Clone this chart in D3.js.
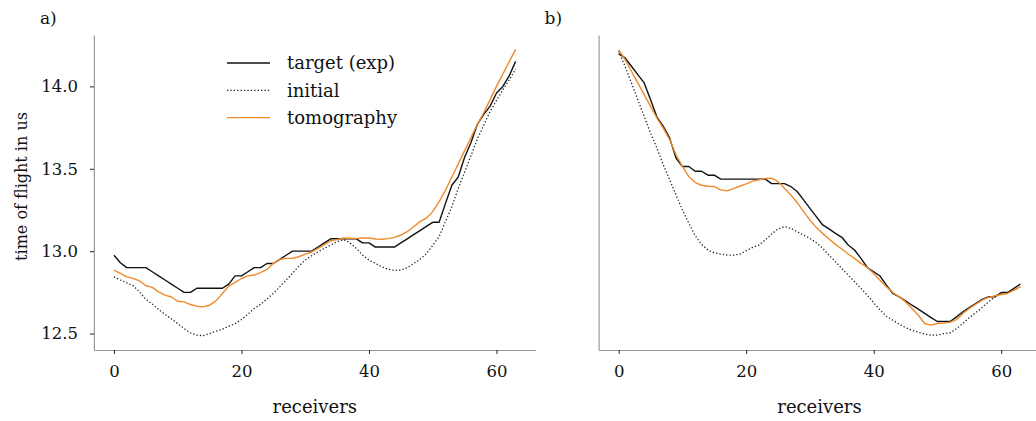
<!DOCTYPE html>
<html>
<head>
    <meta charset="utf-8" />
    <script src="https://d3js.org/d3.v7.min.js"></script>
    <style>
        body { margin: 0; background: #fff; }
        svg text { font-family: "DejaVu Serif", serif; fill: #111; }
        .axis path { stroke: #9a9a9a; stroke-width: 1.2; }
        .axis line { stroke: #222; stroke-width: 1; }
        .axis text { font-size: 16.5px; }
    </style>
</head>
<body>
<svg width="1036" height="421"></svg>
<script>
    // receiver index 0..63
    var receivers = d3.range(64);

    var xTicks = [0, 20, 40, 60];
    var yTicks = [12.5, 13.0, 13.5, 14.0];

    // panel a)
    var targetA = [12.975, 12.93, 12.90, 12.90, 12.90, 12.90, 12.875, 12.85, 12.825, 12.80,
        12.775, 12.75, 12.75, 12.775, 12.775, 12.775, 12.775, 12.775, 12.80, 12.85,
        12.85, 12.875, 12.90, 12.90, 12.925, 12.925, 12.95, 12.975, 13.0, 13.0,
        13.0, 13.0, 13.025, 13.05, 13.075, 13.075, 13.075, 13.075, 13.075, 13.05,
        13.05, 13.025, 13.025, 13.025, 13.025, 13.05, 13.075, 13.10, 13.125, 13.15,
        13.175, 13.175, 13.29, 13.40, 13.45, 13.57, 13.66, 13.77, 13.83, 13.88,
        13.96, 14.00, 14.065, 14.152];
    var initialA = [12.844, 12.825, 12.808, 12.79, 12.753, 12.707, 12.68, 12.646, 12.616, 12.589,
        12.56, 12.53, 12.504, 12.49, 12.487, 12.50, 12.514, 12.526, 12.544, 12.56,
        12.585, 12.617, 12.652, 12.678, 12.71, 12.743, 12.783, 12.825, 12.865, 12.91,
        12.946, 12.972, 12.996, 13.017, 13.037, 13.057, 13.07, 13.051, 13.017, 12.976,
        12.946, 12.926, 12.905, 12.89, 12.883, 12.885, 12.90, 12.925, 12.95, 12.985,
        13.035, 13.088, 13.18, 13.27, 13.38, 13.48, 13.58, 13.68, 13.765, 13.848,
        13.915, 13.98, 14.04, 14.106];
    var tomoA = [12.885, 12.865, 12.844, 12.835, 12.82, 12.79, 12.78, 12.753, 12.733, 12.722,
        12.696, 12.692, 12.676, 12.666, 12.662, 12.672, 12.698, 12.743, 12.788, 12.81,
        12.834, 12.85, 12.855, 12.87, 12.889, 12.926, 12.95, 12.956, 12.956, 12.966,
        12.982, 12.995, 13.017, 13.04, 13.063, 13.07, 13.08, 13.078, 13.076, 13.08,
        13.08, 13.074, 13.072, 13.076, 13.084, 13.098, 13.118, 13.148, 13.179, 13.20,
        13.24, 13.30, 13.37, 13.45, 13.53, 13.61, 13.69, 13.77, 13.84, 13.92,
        14.00, 14.075, 14.15, 14.225];

    // panel b)
    var targetB = [14.199, 14.173, 14.122, 14.071, 14.021, 13.919, 13.814, 13.757, 13.686, 13.564,
        13.514, 13.514, 13.485, 13.485, 13.461, 13.461, 13.437, 13.437, 13.437, 13.437,
        13.437, 13.437, 13.437, 13.437, 13.41, 13.41, 13.41, 13.392, 13.362, 13.311,
        13.26, 13.21, 13.159, 13.135, 13.108, 13.084, 13.037, 13.007, 12.956, 12.901,
        12.875, 12.849, 12.794, 12.743, 12.723, 12.699, 12.672, 12.648, 12.622, 12.597,
        12.573, 12.573, 12.573, 12.601, 12.632, 12.658, 12.682, 12.707, 12.723, 12.723,
        12.749, 12.749, 12.774, 12.80];
    var initialB = [14.213, 14.122, 14.021, 13.919, 13.818, 13.716, 13.625, 13.524, 13.433, 13.341,
        13.25, 13.169, 13.094, 13.041, 13.007, 12.99, 12.982, 12.976, 12.976, 12.982,
        13.003, 13.023, 13.037, 13.068, 13.104, 13.135, 13.149, 13.139, 13.118, 13.098,
        13.078, 13.051, 13.017, 12.976, 12.936, 12.895, 12.855, 12.814, 12.774, 12.733,
        12.687, 12.642, 12.605, 12.581, 12.557, 12.536, 12.52, 12.508, 12.496, 12.49,
        12.49, 12.50, 12.504, 12.53, 12.561, 12.597, 12.626, 12.658, 12.692, 12.723,
        12.739, 12.749, 12.764, 12.78];
    var tomoB = [14.223, 14.163, 14.092, 14.021, 13.95, 13.879, 13.808, 13.747, 13.676, 13.585,
        13.514, 13.453, 13.416, 13.40, 13.394, 13.392, 13.372, 13.366, 13.38, 13.394,
        13.408, 13.425, 13.433, 13.441, 13.443, 13.422, 13.382, 13.341, 13.295, 13.24,
        13.189, 13.143, 13.108, 13.074, 13.041, 13.013, 12.983, 12.956, 12.926, 12.901,
        12.865, 12.824, 12.784, 12.749, 12.723, 12.692, 12.652, 12.611, 12.561, 12.551,
        12.561, 12.563, 12.569, 12.585, 12.622, 12.652, 12.678, 12.703, 12.719, 12.729,
        12.737, 12.743, 12.764, 12.784];

    var seriesNames = ["target (exp)", "initial", "tomography"];
    var panelLabels = ["a)", "b)"];

    var colors = { "target (exp)": "#111111", "initial": "#222222", "tomography": "#ef8a2b" };
    var dashes = { "target (exp)": null, "initial": "1.3,2.1", "tomography": null };
    var widths = { "target (exp)": 1.4, "initial": 1.3, "tomography": 1.4 };

    var panels = [
        { label: panelLabels[0], left: 93.9, right: 535.7, lines: [targetA, initialA, tomoA] },
        { label: panelLabels[1], left: 598.6, right: 1040.4, lines: [targetB, initialB, tomoB] }
    ];

    var svg = d3.select("svg");
    var plotTop = 35, plotBottom = 350;

    // shared y, with 5% padding like matplotlib
    var all = [].concat(targetA, initialA, tomoA, targetB, initialB, tomoB);
    var ext = d3.extent(all), pad = (ext[1] - ext[0]) * 0.05;
    var y = d3.scaleLinear().domain([ext[0] - pad, ext[1] + pad]).range([plotBottom, plotTop]);
    var xPad = (receivers[receivers.length - 1] - receivers[0]) * 0.05;

    panels.forEach(function (p, pi) {
        var x = d3.scaleLinear()
            .domain([receivers[0] - xPad, receivers[receivers.length - 1] + xPad])
            .range([p.left, p.right]);

        var g = svg.append("g");

        g.append("g")
            .attr("class", "axis")
            .attr("transform", "translate(0," + plotBottom + ")")
            .call(d3.axisBottom(x).tickValues(xTicks).tickSize(4).tickPadding(11).tickSizeOuter(0).tickFormat(d3.format("d")));

        var yAxis = d3.axisLeft(y).tickValues(yTicks).tickSize(4).tickPadding(12).tickSizeOuter(0).tickFormat(d3.format(".1f"));
        if (pi === 1) yAxis.tickValues([]);
        g.append("g")
            .attr("class", "axis")
            .attr("transform", "translate(" + p.left + ",0)")
            .call(yAxis);

        var line = d3.line()
            .x(function (d, i) { return x(receivers[i]); })
            .y(function (d) { return y(d); });

        p.lines.forEach(function (vals, si) {
            var name = seriesNames[si];
            g.append("path")
                .datum(vals)
                .attr("fill", "none")
                .attr("stroke", colors[name])
                .attr("stroke-width", widths[name])
                .attr("stroke-dasharray", dashes[name])
                .attr("stroke-linejoin", "round")
                .attr("d", line);
        });

        // x label
        g.append("text")
            .attr("x", (x(receivers[0]) + x(receivers[receivers.length - 1])) / 2)
            .attr("y", 413)
            .attr("text-anchor", "middle")
            .style("font-size", "18px")
            .text("receivers");

        // panel letter
        g.append("text")
            .attr("x", p.left - 54)
            .attr("y", 24)
            .style("font-size", "17px")
            .text(p.label);
    });

    // y label
    svg.append("text")
        .attr("transform", "translate(27," + ((plotTop + plotBottom) / 2 - 6) + ") rotate(-90)")
        .attr("text-anchor", "middle")
        .style("font-size", "16px")
        .text("time of flight in us");

    // legend
    var legend = svg.append("g").attr("transform", "translate(227,63)");
    seriesNames.forEach(function (name, i) {
        legend.append("line")
            .attr("x1", 0).attr("x2", 43)
            .attr("y1", i * 27.3).attr("y2", i * 27.3)
            .attr("stroke", colors[name])
            .attr("stroke-width", widths[name])
            .attr("stroke-dasharray", dashes[name]);
        legend.append("text")
            .attr("x", 60)
            .attr("y", i * 27.3)
            .attr("dy", "0.35em")
            .style("font-size", "18px")
            .text(name);
    });
</script>
</body>
</html>
